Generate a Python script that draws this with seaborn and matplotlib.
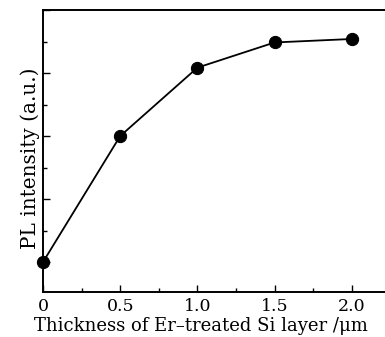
import matplotlib
matplotlib.use("Agg")
import matplotlib.pyplot as plt
import seaborn as sns
import pandas as pd
from matplotlib.ticker import MultipleLocator, NullFormatter

thickness = [0.0, 0.5, 1.0, 1.5, 2.0]
pl_intensity = [0.0, 4.0, 6.17, 6.97, 7.08]
x_tick_labels = ["0", "0.5", "1.0", "1.5", "2.0"]

df = pd.DataFrame({"thickness": thickness, "pl": pl_intensity})

sns.set_theme(style="ticks")
plt.rcParams["font.family"] = ["DejaVu Serif"]
plt.rcParams["mathtext.fontset"] = "dejavuserif"

fig = plt.figure(figsize=(3.85, 3.37), dpi=100)
ax = fig.add_axes([43/385, 45/337, 0.9023, 282/337])

sns.lineplot(data=df, x="thickness", y="pl", ax=ax, color="black", linewidth=1.3,
             marker="o", markersize=8.8, markeredgecolor="black", markerfacecolor="black",
             clip_on=False, zorder=3)

ax.set_xlim(0, 2.25)
ax.set_ylim(-0.95, 8.0)
ax.set_xticks([0, 0.5, 1.0, 1.5, 2.0])
ax.set_xticklabels(x_tick_labels)
ax.xaxis.set_minor_locator(MultipleLocator(0.25))
ax.yaxis.set_major_locator(MultipleLocator(2))
ax.yaxis.set_minor_locator(MultipleLocator(1))
ax.yaxis.set_major_formatter(NullFormatter())
ax.tick_params(axis="both", which="major", direction="in", length=5, width=1.0,
               labelsize=12.5, pad=4, color="black", labelcolor="black")
ax.tick_params(axis="both", which="minor", direction="in", length=3, width=1.0, color="black")
ax.tick_params(axis="y", which="both", left=True, right=False)

for s in ["left", "bottom", "top"]:
    ax.spines[s].set_visible(True)
    ax.spines[s].set_linewidth(1.4)
    ax.spines[s].set_color("black")
ax.spines["right"].set_visible(False)

ax.set_xlabel("Thickness of Er\u2013treated Si layer /\u03bcm", fontsize=13, color="black")
ax.set_ylabel("PL intensity (a.u.)", fontsize=14.4, color="black")
ax.xaxis.set_label_coords(0.456, -0.088)
ax.yaxis.set_label_coords(-0.01, 0.473)

fig.savefig("out.png", dpi=100)
